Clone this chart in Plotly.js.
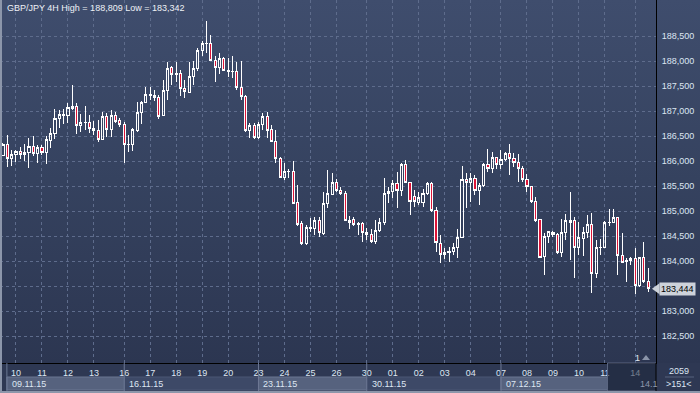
<!DOCTYPE html>
<html><head><meta charset="utf-8">
<script src="https://cdn.plot.ly/plotly-3.0.1.min.js"></script>
<style>
html,body{margin:0;padding:0;}
body{width:700px;height:393px;overflow:hidden;background:linear-gradient(to bottom,#3f4d6d 0px,#35425f 180px,#2c3651 363px,#2c3651 393px);}
#chart{width:700px;height:393px;}
#chart .trace path{shape-rendering:crispEdges;}
</style></head>
<body><div id="chart"></div>
<script>
var symbolTitle = "GBP/JPY 4H High = 188,809 Low = 183,342";
var openP = [
186.12,186.333,186.053,186.133,186.2,186.133,186.167,186.3,186.153,186.273,
186.173,186.42,186.553,186.853,186.92,186.92,187.053,187.1,186.707,186.767,
186.773,186.653,186.613,186.44,186.887,186.633,186.92,186.813,186.74,186.333,
186.333,186.62,186.973,187.167,187.307,187.313,187.267,186.907,187.413,187.867,
187.733,187.753,187.453,187.373,187.7,187.853,188.22,188.353,188.353,188.007,
187.873,188.053,187.82,187.787,187.8,187.473,187.3,186.607,186.72,186.48,
186.733,186.9,186.633,186.4,186.053,185.68,185.8,185.8,185.173,184.753,
184.353,184.653,184.653,184.807,184.553,185.153,185.34,185.573,185.42,185.353,
184.82,184.833,184.74,184.753,184.573,184.533,184.387,184.607,184.773,185.353,
185.387,185.553,185.407,185.94,185.567,185.287,185.173,185.173,185.353,185.553,
185.007,184.353,184.173,184.173,184.187,184.273,184.467,185.633,185.567,185.647,
185.407,185.52,185.933,185.853,186.073,185.933,186.033,186.153,186.053,185.967,
185.853,185.633,185.487,185.2,184.833,184.087,184.487,184.573,184.533,184.167,
184.567,184.767,184.82,184.273,184.453,184.567,184.733,183.753,184.273,184.273,
184.767,184.78,184.873,184.12,183.987,184.007,184.053,183.52,184.073,183.587];
var highP = [
186.353,186.52,186.22,186.22,186.287,186.333,186.467,186.507,186.32,186.32,
186.507,186.653,187.04,187.02,187.04,187.153,187.52,187.153,186.933,187.1,
186.92,186.8,186.82,186.973,186.953,187.02,186.987,186.853,186.787,186.52,
186.667,187.187,187.2,187.487,187.487,187.42,187.32,187.62,187.987,187.907,
187.987,187.82,187.62,187.987,188.0,188.253,188.4,188.809,188.52,188.107,
188.153,188.087,188.053,188.107,187.987,188.0,187.32,186.753,186.753,186.787,
186.953,186.987,186.72,186.62,186.087,185.953,185.84,186.0,185.52,184.8,
184.72,184.853,184.887,184.887,185.387,185.82,185.753,185.633,185.487,185.407,
184.907,184.887,184.787,184.787,184.653,184.633,184.82,184.853,185.653,185.487,
185.62,185.787,185.953,186.02,185.587,185.42,185.387,185.433,185.587,185.587,
185.087,184.52,184.253,184.287,184.353,184.633,185.9,185.753,185.767,185.72,
185.567,185.967,186.233,186.187,186.073,186.22,186.187,186.333,186.153,186.14,
185.9,185.74,185.5,185.287,184.84,184.553,184.607,184.6,184.553,184.833,
184.94,185.373,184.873,184.787,184.673,184.92,184.953,184.42,184.433,184.807,
185.033,185.033,184.887,184.553,184.053,184.087,184.253,184.087,184.38,183.853];
var lowP = [
186.107,185.887,185.907,185.987,186.04,186.007,185.867,186.107,185.953,186.12,
185.933,186.267,186.44,186.653,186.733,186.753,187.02,186.533,186.587,186.62,
186.553,186.52,186.387,186.44,186.487,186.487,186.753,186.687,185.967,186.187,
186.2,186.587,186.747,187.153,187.22,187.2,186.84,186.907,187.22,187.52,
187.587,187.307,187.267,187.353,187.52,187.8,188.107,188.153,188.0,187.587,
187.733,187.8,187.687,187.653,187.42,187.22,186.587,186.467,186.44,186.44,
186.62,186.467,186.387,185.953,185.653,185.62,185.653,185.133,184.707,184.32,
184.32,184.587,184.52,184.487,184.52,185.053,185.32,185.387,185.32,184.807,
184.633,184.7,184.52,184.387,184.42,184.353,184.34,184.587,184.72,185.153,
185.253,185.053,185.3,185.553,184.92,185.087,185.12,185.087,185.32,184.987,
184.187,183.953,184.033,183.987,184.12,184.053,184.453,185.053,185.187,185.32,
185.12,185.487,185.787,185.753,185.833,185.833,186.007,185.72,185.887,185.587,
185.587,185.387,185.153,184.787,184.053,183.72,184.353,184.487,184.14,184.073,
184.42,184.02,183.653,184.12,184.1,184.453,183.353,183.653,184.12,184.273,
184.7,184.767,183.72,183.953,183.587,183.92,183.342,183.487,183.56,183.387];
var closeP = [
186.333,186.053,186.133,186.2,186.133,186.173,186.3,186.153,186.273,186.173,
186.433,186.553,186.853,186.94,186.94,187.073,187.1,186.72,186.773,186.773,
186.653,186.613,186.44,186.887,186.633,186.92,186.8,186.733,186.333,186.34,
186.64,186.973,187.173,187.34,187.333,187.267,186.9,187.413,187.853,187.733,
187.747,187.453,187.4,187.7,187.853,188.22,188.353,188.36,188.02,187.873,
188.053,187.82,187.787,187.8,187.473,187.287,186.607,186.72,186.467,186.733,
186.9,186.62,186.4,186.053,185.68,185.8,185.793,185.153,184.733,184.353,
184.673,184.673,184.807,184.573,185.153,185.353,185.573,185.407,185.353,184.807,
184.773,184.733,184.753,184.573,184.533,184.387,184.62,184.773,185.353,185.4,
185.553,185.407,185.94,185.567,185.187,185.187,185.273,185.353,185.553,185.007,
184.367,184.133,184.133,184.2,184.273,184.473,185.633,185.573,185.647,185.407,
185.507,185.933,185.853,186.073,185.933,186.033,186.153,186.047,185.967,185.853,
185.633,185.5,185.187,184.82,184.073,184.487,184.587,184.533,184.167,184.573,
184.82,184.82,184.273,184.473,184.58,184.74,183.753,184.273,184.267,184.767,
184.78,184.873,184.12,183.967,184.02,184.053,183.52,184.073,183.587,183.444];

// x tick positions (bar index) and their day labels
var dayTickBars = [3,9,15,21,28,34,40,46,52,59,65,71,77,84,90,96,102,108,115,121,127,133,139,146];
var dayTickText = ["10","11","12","13","16","17","18","19","20","23","24","25","26","30","01","02","03","04","07","08","09","10","11","14"];
// week boxes (bar index start) and labels
var weekStartBars = [0.9,28,59,84,115];
var weekEndBars = [28,59,84,115,139.6];
var weekLabels = ["09.11.15","16.11.15","23.11.15","30.11.15","07.12.15"];
var priceTicks = [182.5,183.0,183.5,184.0,184.5,185.0,185.5,186.0,186.5,187.0,187.5,188.0,188.5];
// 183,500 is hidden behind the last-price label in the reference
var priceTickText = ["182,500","183,000","","184,000","184,500","185,000","185,500","186,000","186,500","187,000","187,500","188,000","188,500"];
var lastPriceText = "183,444";
var barCountText = "2059";
var visibleText = ">151<";

var xIdx = openP.map(function(_, i){ return i; });
var H = 363; // plot height px
function py(px){ return (H - px) / H; }
var FONT = "Liberation Sans, Arial, sans-serif";
var labelColor = "#dde6f2";

var trace = {
  type: "candlestick", x: xIdx, open: openP, high: highP, low: lowP, close: closeP,
  increasing: {line: {color: "#ffffff", width: 1}, fillcolor: "rgba(0,0,0,0)"},
  decreasing: {line: {color: "#ffffff", width: 1}, fillcolor: "#dc1438"},
  whiskerwidth: 0, hoverinfo: "skip", showlegend: false
};

var shapes = [];
var annotations = [];
// bottom strip background
shapes.push({type:"rect", xref:"paper", yref:"paper", x0:-0.01, x1:1.08, y0:py(393), y1:py(363), fillcolor:"#2e3853", line:{width:0}, layer:"below"});
weekStartBars.forEach(function(s, i){
  var light = (i % 2 === 0);
  shapes.push({type:"rect", xref:"x", yref:"paper", x0:s, x1:weekEndBars[i], y0:py(390), y1:py(377),
    fillcolor: light ? "#56627e" : "#3d4967", line:{color: light ? "#6a7692" : "#4b5774", width:1}, layer:"above"});
  shapes.push({type:"line", xref:"x", yref:"paper", x0:s, x1:s, y0:py(391), y1:py(363), line:{color:"#6c7894", width:1}, layer:"above"});
  annotations.push({xref:"x", yref:"paper", x:s, y:py(383.5), xanchor:"left", yanchor:"middle", xshift:3,
    text: weekLabels[i], showarrow:false, font:{family:FONT, size:9, color:labelColor}});
});
// dark shifted area at right of bottom strip
shapes.push({type:"rect", xref:"x", yref:"paper", x0:139.6, x1:151, y0:py(391), y1:py(363), fillcolor:"rgba(30,38,58,0.55)", line:{color:"#5a6580", width:1}, layer:"above"});
annotations.push({xref:"paper", yref:"paper", x:638/656, y:py(383.5), xanchor:"left", yanchor:"middle", text:"14.1", showarrow:false, font:{family:FONT, size:9, color:"#8e98ad"}});
// right column separator extended down, bottom border
shapes.push({type:"line", xref:"paper", yref:"paper", x0:1, x1:1, y0:py(393), y1:0, line:{color:"#000000", width:1}, layer:"above"});
shapes.push({type:"line", xref:"paper", yref:"paper", x0:665/656, x1:694/656, y0:py(377), y1:py(377), line:{color:"#56627e", width:1}, layer:"above"});
annotations.push({xref:"paper", yref:"paper", x:679/656, y:py(371), xanchor:"center", yanchor:"middle", text:barCountText, showarrow:false, font:{family:FONT, size:9, color:labelColor}});
annotations.push({xref:"paper", yref:"paper", x:679/656, y:py(384), xanchor:"center", yanchor:"middle", text:visibleText, showarrow:false, font:{family:FONT, size:9, color:labelColor}});
// window frame edges
shapes.push({type:"rect", xref:"paper", yref:"paper", x0:0, x1:2/656, y0:py(393), y1:1, fillcolor:"#8c96aa", line:{width:0}, layer:"above"});
shapes.push({type:"rect", xref:"paper", yref:"paper", x0:0, x1:700/656, y0:py(393), y1:py(391), fillcolor:"#8c96aa", line:{width:0}, layer:"above"});
// "1" marker and triangle near bottom right
annotations.push({xref:"paper", yref:"paper", x:637.5/656, y:py(357.5), xanchor:"center", yanchor:"middle", text:"1", showarrow:false, font:{family:FONT, size:9, color:"#e0e6f0"}});
shapes.push({type:"path", xref:"paper", yref:"paper", path:"M "+(642/656)+" "+py(360)+" L "+(650/656)+" "+py(360)+" L "+(646/656)+" "+py(355)+" Z", fillcolor:"#8a94a8", line:{width:0}, layer:"above"});
// last price label with pointer
annotations.push({xref:"paper", yref:"y", x:659/656, y:closeP[closeP.length-1], xanchor:"left", yanchor:"middle", text:lastPriceText, showarrow:false,
  bgcolor:"#cdd2da", borderpad:1, font:{family:FONT, size:9, color:"#000000"}});
shapes.push({type:"path", xref:"paper", yref:"y", path:"M "+(652/656)+" "+closeP[closeP.length-1]+" L "+(659.5/656)+" "+(closeP[closeP.length-1]+0.11)+" L "+(659.5/656)+" "+(closeP[closeP.length-1]-0.11)+" Z", fillcolor:"#cdd2da", line:{width:0}, layer:"above"});
// title text
annotations.push({xref:"paper", yref:"paper", x:5/656, y:py(8), xanchor:"left", yanchor:"middle", text:symbolTitle, showarrow:false, font:{family:FONT, size:9, color:"#eef1f6"}});

var layout = {
  width:700, height:393,
  margin:{l:0, r:44, t:0, b:30, pad:0},
  paper_bgcolor:"rgba(0,0,0,0)", plot_bgcolor:"rgba(0,0,0,0)",
  separators:",.",
  showlegend:false,
  xaxis:{range:[-0.69,150.8], tickmode:"array", tickvals:dayTickBars, ticktext:dayTickText,
    showgrid:true, gridcolor:"#5e6c8c", griddash:"3px,3px", gridwidth:1, zeroline:false,
    showline:true, linecolor:"#000000", linewidth:1, ticks:"", ticklabelstandoff:1,
    tickfont:{family:FONT, size:9, color:labelColor}, rangeslider:{visible:false}, fixedrange:true},
  yaxis:{side:"right", range:[181.96,189.22], tickmode:"array", tickvals:priceTicks, ticktext:priceTickText,
    showgrid:true, gridcolor:"#5e6c8c", griddash:"3px,3px", gridwidth:1, zeroline:false,
    showline:true, linecolor:"#000000", linewidth:1, ticks:"", ticklabelstandoff:3,
    tickfont:{family:FONT, size:9, color:labelColor}, fixedrange:true},
  shapes:shapes, annotations:annotations
};
Plotly.newPlot("chart", [trace], layout, {displayModeBar:false, staticPlot:true});
</script></body></html>
